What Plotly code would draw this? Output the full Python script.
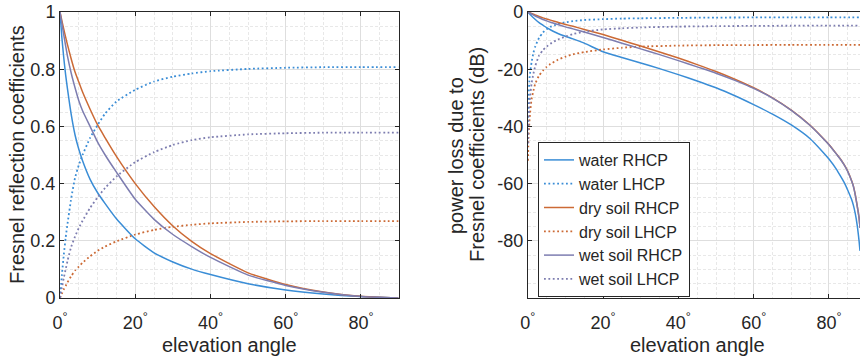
import plotly.graph_objects as go

# ---------------- data ----------------
angles_coef = [0, 0.5, 1, 1.5, 2, 3, 4, 5, 6, 8, 10, 12, 15, 20, 25, 30, 35, 40, 50, 60, 70, 80, 90]

water_rhcp = [1.0, 0.91, 0.84, 0.78, 0.73, 0.64, 0.57, 0.52, 0.48, 0.415, 0.368, 0.33, 0.277, 0.207,
              0.158, 0.126, 0.101, 0.082, 0.05, 0.028, 0.014, 0.005, 0.0]
water_lhcp = [0.0, 0.08, 0.15, 0.21, 0.26, 0.35, 0.42, 0.465, 0.5, 0.56, 0.605, 0.645, 0.687, 0.728,
              0.757, 0.774, 0.785, 0.793, 0.801, 0.805, 0.807, 0.807, 0.807]
dry_rhcp = [1.0, 0.97, 0.94, 0.912, 0.885, 0.835, 0.79, 0.755, 0.72, 0.66, 0.605, 0.56, 0.495, 0.40,
            0.32, 0.252, 0.198, 0.155, 0.088, 0.047, 0.021, 0.006, 0.0]
dry_lhcp = [0.0, 0.015, 0.03, 0.042, 0.055, 0.077, 0.096, 0.11, 0.123, 0.146, 0.165, 0.18, 0.198, 0.222,
            0.238, 0.249, 0.256, 0.261, 0.266, 0.268, 0.269, 0.269, 0.269]
wet_rhcp = [1.0, 0.96, 0.92, 0.882, 0.845, 0.785, 0.735, 0.69, 0.655, 0.6, 0.545, 0.5, 0.44, 0.345,
            0.275, 0.222, 0.18, 0.142, 0.08, 0.044, 0.02, 0.005, 0.0]
wet_lhcp = [0.0, 0.035, 0.07, 0.1, 0.13, 0.18, 0.215, 0.245, 0.27, 0.315, 0.352, 0.385, 0.425, 0.475,
            0.51, 0.535, 0.552, 0.562, 0.572, 0.576, 0.578, 0.578, 0.578]

angles_db_co = [0, 1, 2, 3, 4, 5, 6, 8, 10, 12, 15, 20, 25, 30, 35, 40, 45, 50, 55, 60, 65, 70, 75,
                78, 80, 82, 83, 84, 85, 86, 86.5, 87, 87.5, 88, 88.25]
water_rhcp_db = [0, -1.4, -2.6, -3.7, -4.6, -5.5, -6.2, -7.5, -8.5, -9.4, -10.9, -13.9, -15.9, -17.8,
                 -19.8, -21.9, -24.1, -26.5, -29.3, -32.4, -35.7, -39.5, -44.3, -48.4, -51.4, -55.0,
                 -57.2, -59.5, -62.3, -65.5, -67.6, -70.5, -74.5, -80.0, -83.5]
dry_rhcp_db = [0, -0.5, -1.05, -1.55, -2.05, -2.45, -2.85, -3.6, -4.35, -5.0, -6.1, -7.9, -9.9, -11.9,
               -14.0, -16.1, -18.4, -20.8, -23.5, -26.5, -30.0, -34.3, -39.6, -43.5, -46.3, -49.6,
               -51.3, -53.3, -55.7, -58.9, -60.9, -63.9, -67.7, -71.9, -75.4]
wet_rhcp_db = [0, -0.7, -1.4, -2.0, -2.6, -3.1, -3.6, -4.4, -5.2, -5.9, -7.0, -8.9, -10.9, -12.9,
               -14.9, -17.0, -19.2, -21.4, -23.9, -26.7, -30.1, -34.4, -39.7, -43.6, -46.4, -49.7,
               -51.4, -53.4, -55.8, -59.0, -61.0, -64.0, -67.8, -72.0, -75.5]

angles_db_cross = [0.05, 0.2, 0.5, 1, 1.5, 2, 3, 4, 5, 6, 8, 10, 12, 15, 20, 25, 30, 40, 50, 60, 70, 80, 88.25]
water_lhcp_db = [-40, -30, -22.5, -17.6, -14.2, -12.0, -9.0, -7.2, -6.0, -5.2, -4.2, -3.6, -3.2, -2.8,
                 -2.5, -2.3, -2.2, -2.05, -1.95, -1.9, -1.88, -1.87, -1.86]
dry_lhcp_db = [-52, -44, -37, -30.5, -27.5, -25.0, -22.2, -20.5, -19.2, -18.2, -16.7, -15.6, -14.8, -14.0,
               -13.1, -12.5, -12.1, -11.75, -11.6, -11.55, -11.5, -11.5, -11.5]
wet_lhcp_db = [-46, -38, -31, -25, -21.5, -18.8, -15.2, -13.4, -12.1, -11.1, -9.6, -8.6, -7.7, -6.9,
               -6.1, -5.7, -5.4, -5.1, -4.95, -4.85, -4.8, -4.78, -4.77]

x_tickvals = [0, 20, 40, 60, 80]
x_ticktext = ["0<sup>°</sup>", "20<sup>°</sup>", "40<sup>°</sup>", "60<sup>°</sup>", "80<sup>°</sup>"]
y1_tickvals = [0, 0.2, 0.4, 0.6, 0.8, 1]
y1_ticktext = ["0", "0.2", "0.4", "0.6", "0.8", "1"]
y2_tickvals = [-100, -80, -60, -40, -20, 0]
y2_ticktext = ["", "-80", "-60", "-40", "-20", "0"]

# ---------------- styles ----------------
W, H = 860, 357
C_WATER = "#3a8dd6"
C_DRY = "#cc6a35"
C_WET = "#7d7db0"
FONT = "Liberation Sans, Arial, Helvetica, sans-serif"
TXT = "#262626"
DOT = "1.8px,2.6px"

fig = go.Figure()

def add(x, y, color, dotted, name, xa, ya, show):
    fig.add_trace(go.Scatter(
        x=x, y=y, mode="lines", name=name, showlegend=show,
        line=dict(color=color, width=1.8 if dotted else 1.5,
                  dash=DOT if dotted else "solid", shape="spline", smoothing=0.5),
        xaxis=xa, yaxis=ya, hoverinfo="skip"))

# left panel
add(angles_coef, water_rhcp, C_WATER, False, "water RHCP", "x", "y", False)
add(angles_coef, water_lhcp, C_WATER, True, "water LHCP", "x", "y", False)
add(angles_coef, dry_rhcp, C_DRY, False, "dry soil RHCP", "x", "y", False)
add(angles_coef, dry_lhcp, C_DRY, True, "dry soil LHCP", "x", "y", False)
add(angles_coef, wet_rhcp, C_WET, False, "wet soil RHCP", "x", "y", False)
add(angles_coef, wet_lhcp, C_WET, True, "wet soil LHCP", "x", "y", False)
# right panel
add(angles_db_co, water_rhcp_db, C_WATER, False, "water RHCP", "x2", "y2", True)
add(angles_db_cross, water_lhcp_db, C_WATER, True, "water LHCP", "x2", "y2", True)
add(angles_db_co, dry_rhcp_db, C_DRY, False, "dry soil RHCP", "x2", "y2", True)
add(angles_db_cross, dry_lhcp_db, C_DRY, True, "dry soil LHCP", "x2", "y2", True)
add(angles_db_co, wet_rhcp_db, C_WET, False, "wet soil RHCP", "x2", "y2", True)
add(angles_db_cross, wet_lhcp_db, C_WET, True, "wet soil LHCP", "x2", "y2", True)

ydom = [(H - 298) / H, (H - 12) / H]

common = dict(showline=True, linecolor=TXT, linewidth=1, ticks="inside", ticklen=4,
              tickcolor=TXT, tickwidth=1, zeroline=False, showgrid=True,
              gridcolor="#dedede", gridwidth=1, automargin=False,
              tickfont=dict(family=FONT, size=18, color=TXT))
minor = dict(showgrid=True, gridcolor="#e8e8e8", griddash="3px,2px", gridwidth=1, ticks="")

fig.update_layout(
    width=W, height=H, margin=dict(l=0, r=0, t=0, b=0, autoexpand=False),
    paper_bgcolor="white", plot_bgcolor="white",
    font=dict(family=FONT, color=TXT),
    xaxis=dict(domain=[60 / W, 398.6 / W], range=[0, 90], tickmode="array",
               tickvals=x_tickvals, ticktext=x_ticktext, mirror="ticks", anchor="y",
               ticklabelstandoff=8,
               minor=dict(tickmode="linear", tick0=0, dtick=5, **minor), **common),
    yaxis=dict(domain=ydom, range=[0, 1], tickmode="array", tickvals=y1_tickvals,
               ticktext=y1_ticktext, mirror="ticks", anchor="x",
               minor=dict(tickmode="linear", tick0=0, dtick=0.05, **minor), **common),
    xaxis2=dict(domain=[527.8 / W, 1.0], range=[0, 88.25], tickmode="array",
                tickvals=x_tickvals, ticktext=x_ticktext, mirror="ticks", anchor="y2",
                ticklabelstandoff=8,
                minor=dict(tickmode="linear", tick0=0, dtick=5, **minor), **common),
    yaxis2=dict(domain=ydom, range=[-100, 0], tickmode="array", tickvals=y2_tickvals,
                ticktext=y2_ticktext, mirror=False, anchor="x2",
                minor=dict(tickmode="linear", tick0=0, dtick=5, **minor), **common),
    legend=dict(x=538 / W, y=(H - 142) / H, xanchor="left", yanchor="top",
                bgcolor="white", bordercolor=TXT, borderwidth=1,
                font=dict(family=FONT, size=16, color=TXT), itemwidth=30, tracegroupgap=0),
    showlegend=True,
    annotations=[
        dict(text="elevation angle", x=229.3 / W, y=(H - 345) / H, xref="paper", yref="paper",
             showarrow=False, xanchor="center", yanchor="middle",
             font=dict(family=FONT, size=20, color=TXT)),
        dict(text="elevation angle", x=697 / W, y=(H - 345) / H, xref="paper", yref="paper",
             showarrow=False, xanchor="center", yanchor="middle",
             font=dict(family=FONT, size=20, color=TXT)),
        dict(text="Fresnel reflection coefficients", x=17 / W, y=(H - 155) / H, xref="paper",
             yref="paper", showarrow=False, xanchor="center", yanchor="middle", textangle=-90,
             font=dict(family=FONT, size=20, color=TXT)),
        dict(text="power loss due to", x=456 / W, y=(H - 155) / H, xref="paper",
             yref="paper", showarrow=False, xanchor="center", yanchor="middle", textangle=-90,
             font=dict(family=FONT, size=20, color=TXT)),
        dict(text="Fresnel coefficients (dB)", x=477 / W, y=(H - 155) / H, xref="paper",
             yref="paper", showarrow=False, xanchor="center", yanchor="middle", textangle=-90,
             font=dict(family=FONT, size=20, color=TXT)),
    ],
)

fig.write_html("out.html")
